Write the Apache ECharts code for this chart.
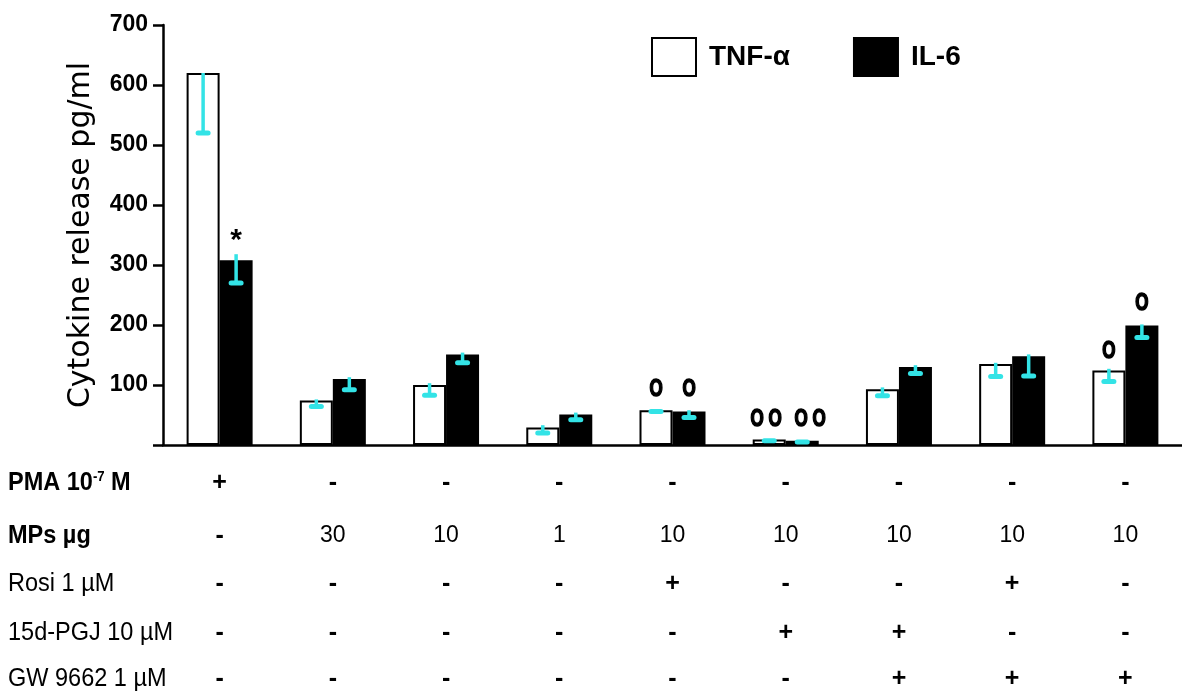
<!DOCTYPE html>
<html>
<head>
<meta charset="utf-8">
<script src="https://cdn.jsdelivr.net/npm/echarts@6/dist/echarts.min.js"></script>
<style>html,body{margin:0;padding:0;background:#fff;}#c{width:1182px;height:695px;}</style>
</head>
<body>
<div id="c"></div>
<script>
// ---- data ----
const categories = ['G1','G2','G3','G4','G5','G6','G7','G8','G9'];
const tnfValues = [620, 74, 100, 29, 58, 9, 93, 135, 124];
const il6Values = [308, 110, 151, 51, 56, 7, 130, 148, 199];
const tnfErrHigh = [620, 76, 103, 33, 60, 10, 96, 137, 127];
const tnfErrLow  = [520, 64, 83, 20, 56, 7, 82, 114, 106];
const il6ErrHigh = [318, 113, 154, 54, 58, 8, 133, 151, 201];
const il6ErrLow  = [270, 92, 137, 42, 46, 5, 119, 115, 179];
const yTicks = [0, 100, 200, 300, 400, 500, 600, 700];
// annotations: category index, series (0 TNF, 1 IL-6), y value, text
const annCat    = [0, 4, 4, 5, 5, 8, 8];
const annSeries = [1, 0, 1, 0, 1, 0, 1];
const annValue  = [340, 93, 93, 42, 42, 156, 236];
const annText   = ['*', 'O', 'O', 'O O', 'O O', 'O', 'O'];
// table rows
const rowLabels = ['PMA 10{sup|-7} M', 'MPs µg', 'Rosi 1 µM', '15d-PGJ 10 µM', 'GW 9662 1 µM'];
const rowPMA  = ['+','-','-','-','-','-','-','-','-'];
const rowMPs  = ['-','30','10','1','10','10','10','10','10'];
const rowRosi = ['-','-','-','-','+','-','-','+','-'];
const rowPGJ  = ['-','-','-','-','-','+','+','-','-'];
const rowGW   = ['-','-','-','-','-','-','+','+','+'];
const rows = [rowPMA, rowMPs, rowRosi, rowPGJ, rowGW];

// ---- layout / style ----
const SANS = "'Liberation Sans',Arial,sans-serif";
const CYAN = '#33E3E6';
const BAR_W = 33;
const GRID_LEFT = 163, GRID_TOP = 25, BASE_Y = 445, H = 695;
const rowOffsets = [38, 91, 139, 188, 234];
const rowWeights = ['bold', 'bold', 'normal', 'normal', 'normal'];
const LABEL_SCALE = 0.94;

const chart = echarts.init(document.getElementById('c'), null, {renderer: 'canvas'});

function errSeries(hi, lo, off) {
  return {
    type: 'custom',
    xAxisIndex: 0, yAxisIndex: 0,
    z: 5,
    encode: {x: 0, y: [1, 2]},
    data: hi.map((h, i) => [i, h, lo[i]]),
    renderItem: function (params, api) {
      const i = api.value(0);
      const p1 = api.coord([i, api.value(1)]);
      const p2 = api.coord([i, api.value(2)]);
      const x = p1[0] + off;
      return {
        type: 'group',
        children: [
          {type: 'rect', shape: {x: x - 1.75, y: p1[1], width: 3.5, height: Math.max(p2[1] - p1[1], 0)}, style: {fill: CYAN}},
          {type: 'rect', shape: {x: x - 7.5, y: p2[1] - 2.5, width: 15, height: 5, r: 2.5}, style: {fill: CYAN}}
        ]
      };
    }
  };
}

const xAxes = [{
  type: 'category', data: categories, gridIndex: 0, position: 'bottom',
  axisLine: {show: true, lineStyle: {color: '#000', width: 2.5}},
  axisTick: {show: false}, axisLabel: {show: false}
}];
rows.forEach((r, k) => {
  xAxes.push({
    type: 'category', data: r, gridIndex: 0, position: 'bottom', offset: rowOffsets[k],
    axisLine: {show: false}, axisTick: {show: false}, splitLine: {show: false},
    axisLabel: {
      interval: 0, margin: 0, verticalAlign: 'middle',
      formatter: v => (v === '+' || v === '-') ? '{s|' + v + '}' : '{n|' + v + '}',
      rich: {
        s: {fontFamily: SANS, fontSize: 25, fontWeight: 'bold', color: '#000'},
        n: {fontFamily: SANS, fontSize: 23, color: '#000'}
      }
    }
  });
});

const graphics = rowLabels.map((t, k) => ({
  type: 'text', x: 8, y: BASE_Y + rowOffsets[k], scaleX: LABEL_SCALE, scaleY: 1,
  style: {
    text: t, fill: '#000', fontFamily: SANS, fontSize: 25, fontWeight: rowWeights[k],
    verticalAlign: 'middle', align: 'left',
    rich: {sup: {fontSize: 14, fontWeight: 'bold', fontFamily: SANS, verticalAlign: 'top', padding: [0, 0, 12, 0]}}
  }
}));

chart.setOption({
  animation: false,
  backgroundColor: '#fff',
  grid: {left: GRID_LEFT, right: -12, top: GRID_TOP, bottom: H - BASE_Y, containLabel: false},
  legend: {
    left: 646, top: 32, itemWidth: 44, itemHeight: 38, itemGap: 63, icon: 'rect',
    data: ['TNF-α', 'IL-6'],
    textStyle: {fontFamily: SANS, fontSize: 28, fontWeight: 'bold', color: '#000', padding: [0, 0, 0, 8]}
  },
  xAxis: xAxes,
  yAxis: {
    type: 'value', min: yTicks[0], max: yTicks[yTicks.length - 1], interval: 100,
    name: 'Cytokine release pg/ml', nameLocation: 'middle', nameGap: 67,
    nameTextStyle: {fontFamily: "'DejaVu Sans',sans-serif", fontSize: 30, color: '#000'},
    axisLine: {show: true, lineStyle: {color: '#000', width: 2.5}},
    axisTick: {show: true, length: 10, lineStyle: {color: '#000', width: 2.5}},
    splitLine: {show: false},
    axisLabel: {fontFamily: SANS, fontSize: 23, fontWeight: 'bold', color: '#000', margin: 15,
      formatter: v => v === 0 ? '' : String(v)}
  },
  series: [
    {name: 'TNF-α', type: 'bar', data: tnfValues, barWidth: BAR_W, barGap: '0%',
      itemStyle: {color: '#fff', borderColor: '#000', borderWidth: 2}},
    {name: 'IL-6', type: 'bar', data: il6Values, barWidth: BAR_W, barGap: '0%',
      itemStyle: {color: '#000', borderColor: '#000', borderWidth: 2}},
    errSeries(tnfErrHigh, tnfErrLow, -BAR_W / 2),
    errSeries(il6ErrHigh, il6ErrLow, BAR_W / 2),
    {
      type: 'custom', xAxisIndex: 0, yAxisIndex: 0, z: 6,
      encode: {x: 0, y: 1},
      data: annCat.map((c, i) => [c, annValue[i]]),
      renderItem: function (params, api) {
        const idx = params.dataIndex;
        const p = api.coord([api.value(0), api.value(1)]);
        const isStar = annText[idx] === '*';
        const multi = annText[idx].length > 1;
        let off = annSeries[idx] === 0 ? -BAR_W / 2 : BAR_W / 2;
        if (multi) off += annSeries[idx] === 0 ? -3 : 8;
        return {
          type: 'text', x: p[0] + off, y: p[1], scaleX: isStar ? 1 : 0.74, scaleY: isStar ? 1 : 1.05,
          style: {
            text: annText[idx], fill: '#000', align: 'center', verticalAlign: 'middle',
            fontFamily: SANS, fontWeight: 'bold', fontSize: isStar ? 30 : 23,
            stroke: isStar ? null : '#000', lineWidth: isStar ? 0 : 1.6
          }
        };
      }
    }
  ],
  graphic: graphics
});
</script>
</body>
</html>
